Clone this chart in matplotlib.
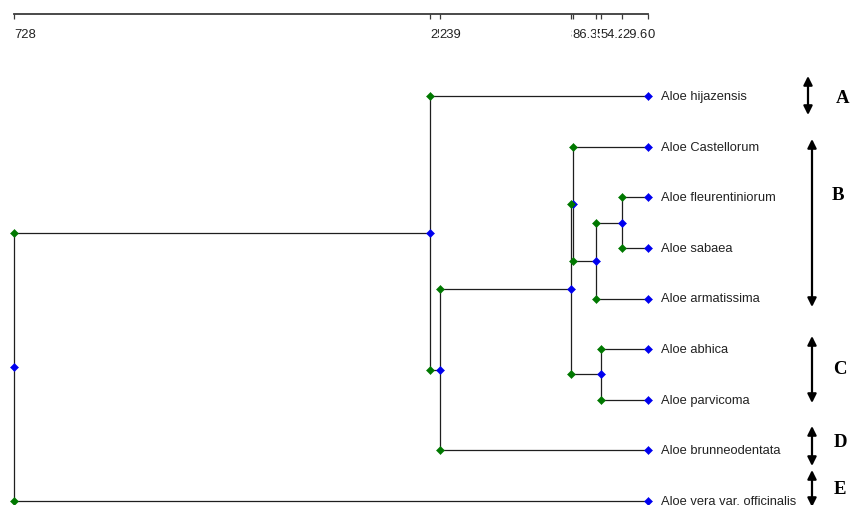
import matplotlib.pyplot as plt
from matplotlib.transforms import blended_transform_factory

# leaves, top to bottom
leaves = ["Aloe hijazensis", "Aloe Castellorum", "Aloe fleurentiniorum",
          "Aloe sabaea", "Aloe armatissima", "Aloe abhica", "Aloe parvicoma",
          "Aloe brunneodentata", "Aloe vera var. officinalis"]

# joins: (first child, second child, height); new nodes get numbers after the leaves
joins = [
    (2, 3, 29.6),
    (9, 4, 59.5),
    (1, 10, 86.3),
    (5, 6, 54.2),
    (11, 12, 88.8),
    (13, 7, 239.0),
    (0, 14, 250.0),
    (15, 8, 728.0),
]

groups = ["A", "B", "C", "D", "E"]

# figure layout, in pixels
W, H = 850, 506
x_left, x_right = 14, 648      # height 728 -> 0
y_scale, y_first, y_last = 15, 97, 502
step = (y_last - y_first) / (len(leaves) - 1)


def row(py):
    return (py - y_first) / step


# group arrows: (x px, top px, bottom px), letters: (x px, y px)
arrow_spans = [(808, 77, 116), (812, 140, 308), (812, 337, 404),
               (812, 427, 467), (812, 471, 508)]
letter_pos = [(843, 99), (838, 196), (840, 370), (840, 443), (840, 490)]

GREEN = "#007800"
BLUE = "#0000f0"
LINE = "#1e1e1e"

# node positions
n = len(leaves)
ypos = [float(i) for i in range(n)]
xpos = [0.0] * n
for a, b, h in joins:
    ypos.append((ypos[a] + ypos[b]) / 2)
    xpos.append(h)

fig = plt.figure(figsize=(W / 100, H / 100), dpi=100)
ax = fig.add_axes([x_left / W, (H - y_last) / H,
                   (x_right - x_left) / W, (y_last - y_scale) / H])
root_h = joins[-1][2]
ax.set_xlim(root_h, 0)
ax.set_ylim(len(leaves) - 1, row(y_scale))

for s in ("left", "right", "bottom"):
    ax.spines[s].set_visible(False)
ax.spines["top"].set_color("#3a3a3a")
ax.spines["top"].set_linewidth(1.3)
ax.set_yticks([])

heights = sorted([h for _, _, h in joins] + [0.0], reverse=True)
ax.set_xticks(heights)
ax.xaxis.set_ticks_position("top")
ax.tick_params(axis="x", direction="in", length=3.4, width=0.9,
               color="#3a3a3a", labeltop=False, labelbottom=False)

# scale labels, each drawn over the previous one
for k, h in enumerate(heights):
    ax.text(h, row(35), f"{h:.3g}", ha="left", va="center",
            fontsize=9.4, family="Liberation Sans", color="#222222",
            bbox=dict(facecolor="white", edgecolor="none", pad=0.3),
            zorder=5 + k, clip_on=False)

# branches
for a, b, h in joins:
    ax.plot([h, h], [ypos[a], ypos[b]], color=LINE, lw=0.9,
            clip_on=False, zorder=2)
    for c in (a, b):
        ax.plot([h, xpos[c]], [ypos[c], ypos[c]], color=LINE, lw=0.9,
                clip_on=False, zorder=2)

# node markers
for a, b, h in joins:
    ax.plot([h, h], [ypos[a], ypos[b]], linestyle="none", marker="D",
            ms=4.0, mfc=GREEN, mec=GREEN, mew=0.4, clip_on=False, zorder=4)
ax.plot(xpos, ypos, linestyle="none", marker="D", ms=4.0, mfc=BLUE,
        mec=BLUE, mew=0.4, clip_on=False, zorder=3)

for i, name in enumerate(leaves):
    ax.annotate(name, (0, i), xytext=(9.4, 0), textcoords="offset points",
                ha="left", va="center", fontsize=9.3, family="Liberation Sans",
                color="#222222", annotation_clip=False)

# group brackets on the right
tr = blended_transform_factory(fig.transFigure, ax.transData)
for g, (ax_x, top, bot), (lx, ly) in zip(groups, arrow_spans, letter_pos):
    ax.annotate("", xy=(ax_x / W, row(bot)), xytext=(ax_x / W, row(top)),
                xycoords=tr, textcoords=tr, annotation_clip=False,
                arrowprops=dict(arrowstyle="<|-|>", color="black", lw=1.6,
                                mutation_scale=13, shrinkA=0, shrinkB=0))
    ax.text(lx / W, row(ly), g, transform=tr, ha="center", va="center",
            fontsize=13.5, fontweight="bold", family="Liberation Serif",
            color="black")

fig.savefig("out.png", dpi=100, facecolor="white")
